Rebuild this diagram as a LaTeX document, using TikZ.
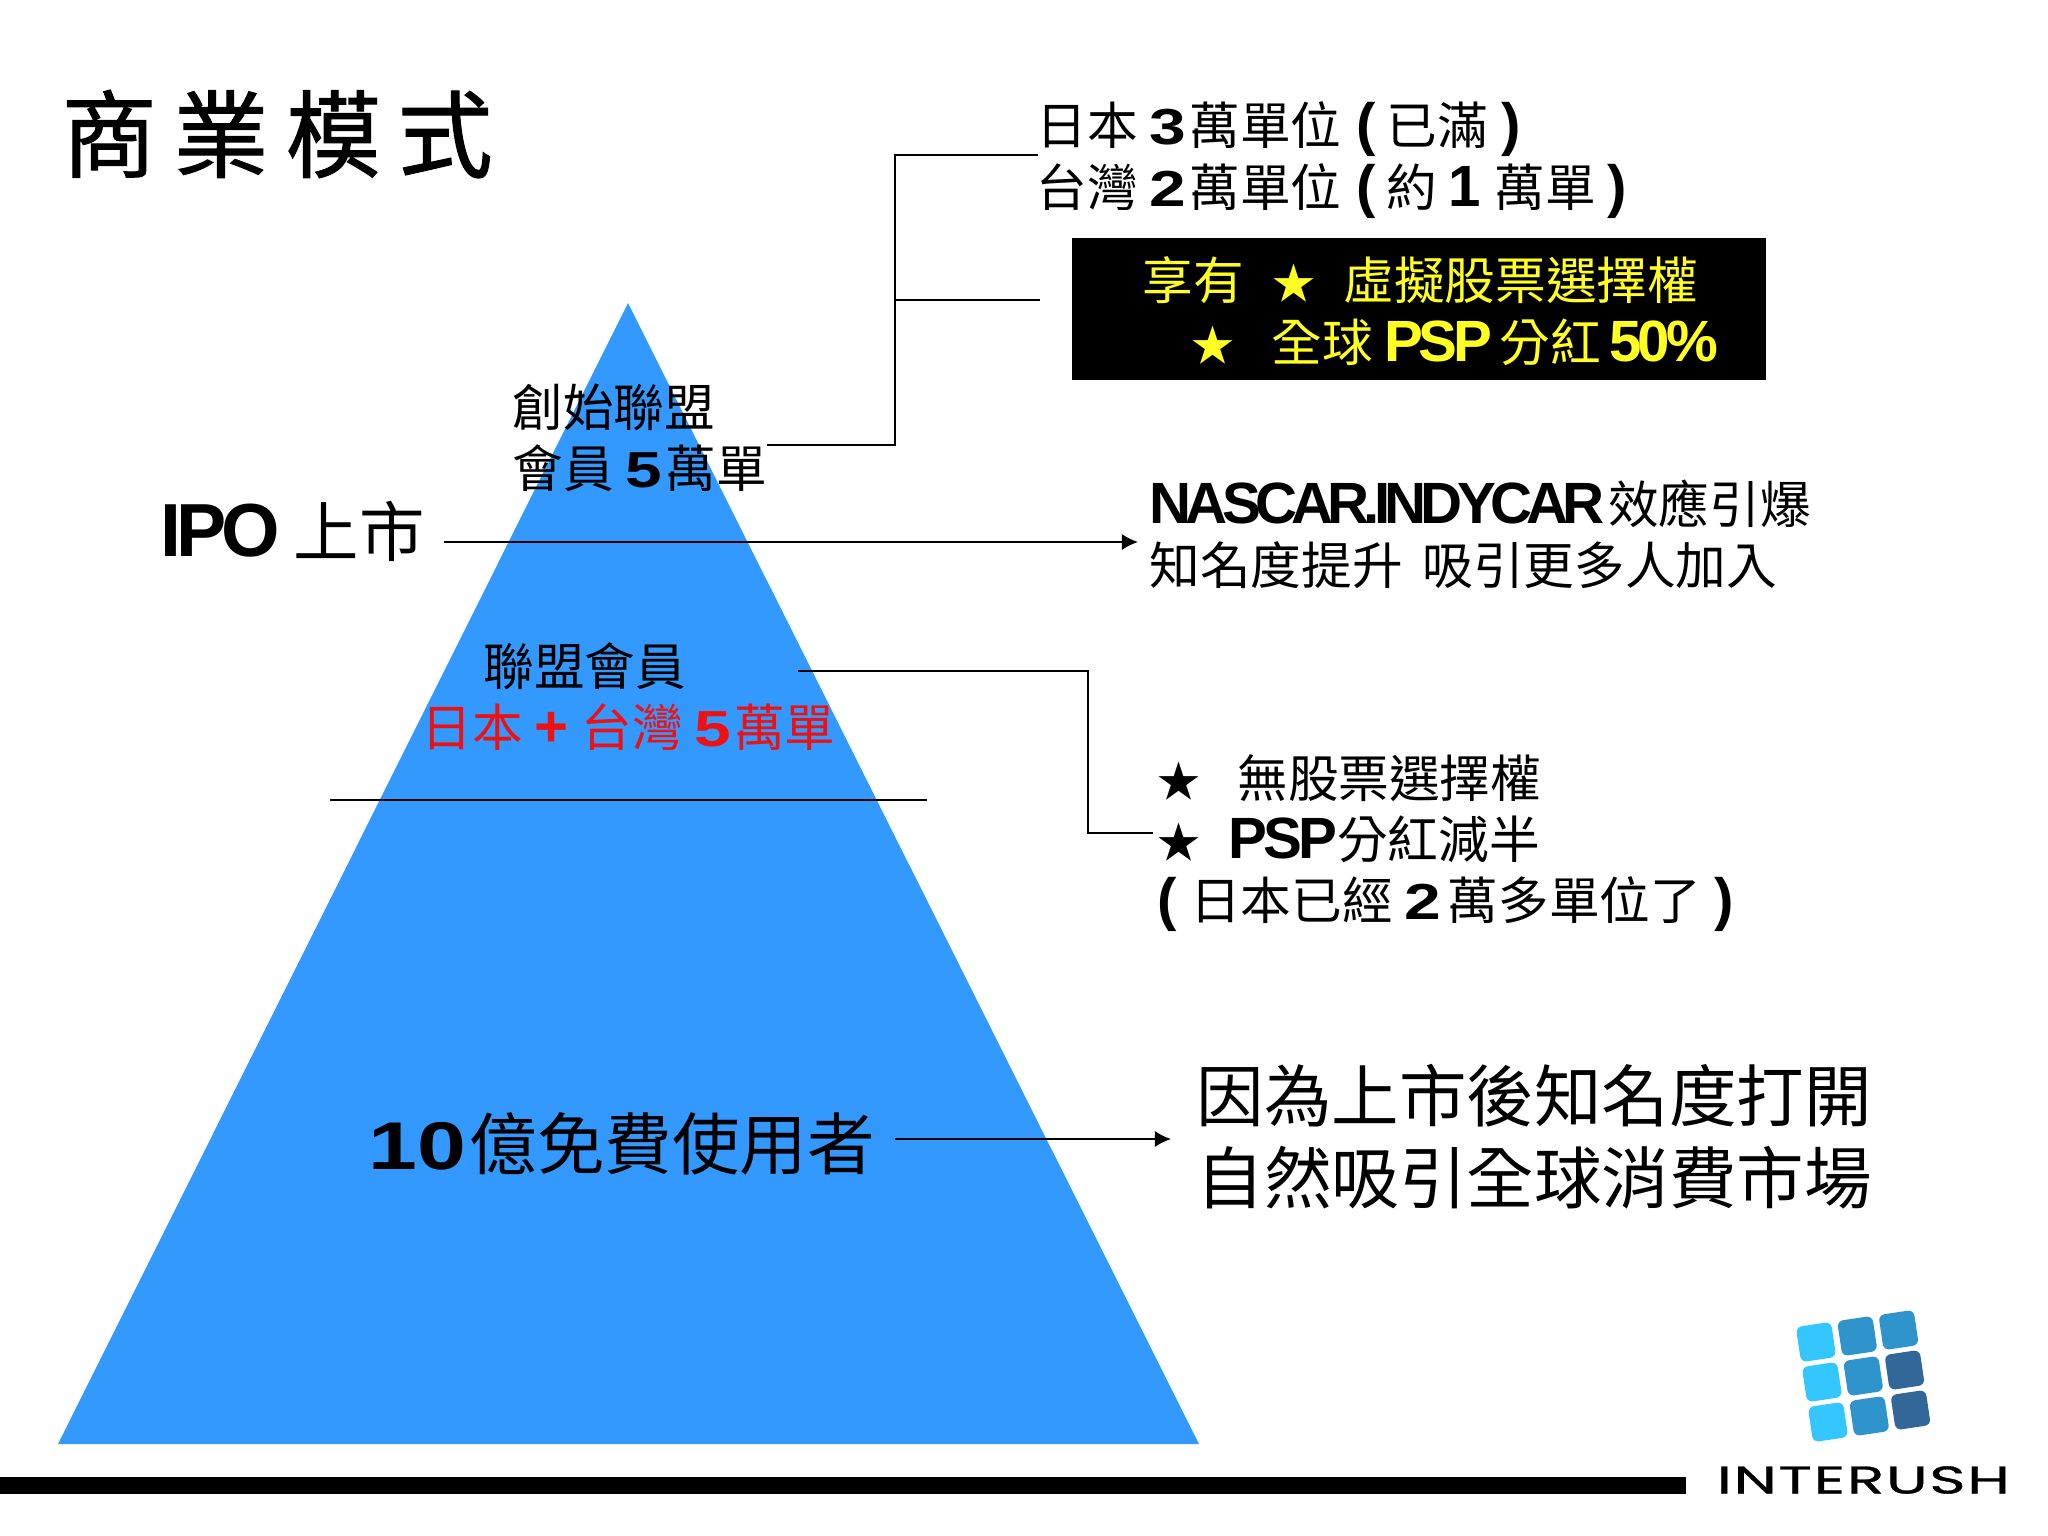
\documentclass[tikz,border=0pt]{standalone}
\usepackage{fontspec}
\setmainfont{Noto Sans CJK TC}
\newfontfamily\titlecjk[LetterSpace=18,FakeBold=1.2]{Noto Sans CJK TC}
\newfontfamily\tightlatin[LetterSpace=-7,Scale=1.15]{Liberation Sans}
\newfontfamily\tighterlatin[LetterSpace=-10,Scale=1.15]{Liberation Sans}
\newfontfamily\widedigit[FakeStretch=1.3]{Liberation Sans}
\newfontfamily\logofont[FakeStretch=1.6,LetterSpace=4,FakeBold=0.8]{Poppins}
\newcommand{\lat}[1]{{\tightlatin\bfseries #1}}
\newcommand{\dig}[1]{{\widedigit\bfseries #1}\kern1pt}
\newcommand{\mystar}{\scalebox{0.85}{★}}
\usepackage{tikz}
\usetikzlibrary{arrows.meta}
\definecolor{pyramidblue}{HTML}{3399FF}
\definecolor{cellsky}{HTML}{33C6FF}
\definecolor{cellmid}{HTML}{2F93CC}
\definecolor{celldark}{HTML}{336699}
\definecolor{markred}{HTML}{EE1111}
\definecolor{markyellow}{HTML}{FFFF22}
\tikzset{middle/.style = {anchor=west,inner sep=0,align=left,font=\fontsize{14.4}{17.4}\selectfont}}
\tikzset{large/.style = {anchor=west,inner sep=0,align=left,font=\fontsize{19.2}{23.4}\selectfont}}
\tikzset{wire/.style = {line width=0.45pt}}
\tikzset{edge/.style = {-{Latex[length=4.6pt,width=4.6pt]},line width=0.5pt}}
\tikzset{cell/.style = {shape=rectangle,rounded corners=0.06cm,minimum size=0.355cm,inner sep=0,rotate=8.5}}

\begin{document}
\begin{tikzpicture}[x=0.01cm,y=-0.01cm]
\useasboundingbox (0,0) rectangle (2048,1536);

\coordinate (apex) at (628,303);
\coordinate (baseleft) at (58,1444);
\coordinate (baseright) at (1199,1444);
\fill[pyramidblue] (apex) -- (baseright) -- (baseleft) -- cycle;
\fill[black] (0,1477) rectangle (1686,1494);

\node[anchor=west,inner sep=0,font=\titlecjk\fontsize{27}{30}\selectfont] (title) at (61,134) {商業模式};

\node[middle] (quota) at (1036,160) {日本 \dig{3}萬單位 \kern1pt\lat{(} 已滿 \kern0.5pt\lat{)}\\台灣 \dig{2}萬單位 \kern1pt\lat{(} 約 \lat{1} \kern0.5pt萬單 \lat{)}};
\node[shape=rectangle,fill=black,minimum width=6.94cm,minimum height=1.42cm,inner sep=0] (perkbox) at (1419,309) {};
\node[middle,text=markyellow] (perkone) at (1142,280) {享有 \,\,\mystar\,\, 虛擬股票選擇權};
\node[middle,text=markyellow] (perktwo) at (1191,342) {\mystar\,\,\, 全球 \lat{PSP}\kern2pt 分紅\kern2.5pt \lat{50\%}};

\node[middle] (founder) at (512,438) {創始聯盟\\會員 \dig{5}萬單};
\node[anchor=west,inner sep=0,font=\fontsize{18.6}{22}\selectfont] (ipo) at (160,531) {\lat{IPO}\kern4pt 上市};
\node[middle] (effect) at (1149,534) {{\tighterlatin\bfseries NASCAR.INDYCAR}\kern1pt 效應引爆\\知名度提升 \,吸引更多人加入};
\node[middle] (member) at (483,666) {聯盟會員};
\node[middle,text=markred] (region) at (421,727) {日本 \lat{+} \kern0.5pt台灣 \dig{5}萬單};
\node[middle] (nostock) at (1157,843) {\mystar\,\,\, 無股票選擇權\\\mystar\,\, \lat{PSP}分紅減半\\\lat{(} \kern0.5pt日本已經 \dig{2}\kern1pt萬多單位了 \kern0.5pt\lat{)}};
\node[large] (users) at (368,1144) {\dig{10}億免費使用者};
\node[large] (market) at (1196,1137) {因為上市後知名度打開\\自然吸引全球消費市場};

\coordinate (ipostart) at (444,542);
\coordinate (ipoend) at (1138,542);
\coordinate (trunk) at (895,445);
\coordinate (quotaend) at (1038,155);
\coordinate (branch) at (895,300);
\coordinate (branchend) at (1040,300);
\coordinate (founderout) at (767,445);
\coordinate (memberout) at (798,671);
\coordinate (elbow) at (1088,671);
\coordinate (memberend) at (1153,833);
\coordinate (splitleft) at (330,800);
\coordinate (splitright) at (927,800);
\coordinate (usersout) at (895,1139);
\coordinate (usersend) at (1171,1139);

\draw[wire] (founderout) -- (trunk) |- (quotaend);
\draw[wire] (branch) -- (branchend);
\draw[edge] (ipostart) -- (ipoend);
\draw[wire] (memberout) -- (elbow) |- (memberend);
\draw[wire] (splitleft) -- (splitright);
\draw[edge] (usersout) -- (usersend);

\foreach \row/\col/\tone in {0/0/cellsky,0/1/cellmid,0/2/cellmid,1/0/cellsky,1/1/cellmid,1/2/celldark,2/0/cellsky,2/1/cellmid,2/2/celldark}
  \node[cell,fill=\tone] (cell\row\col) at ({1816+41.3*\col+6*\row},{1342+(-6)*\col+40*\row}) {};

\node[anchor=west,inner sep=0,font=\logofont\fontsize{11}{12}\selectfont] (brand) at (1716,1480) {INTERUSH};

\end{tikzpicture}
\end{document}
